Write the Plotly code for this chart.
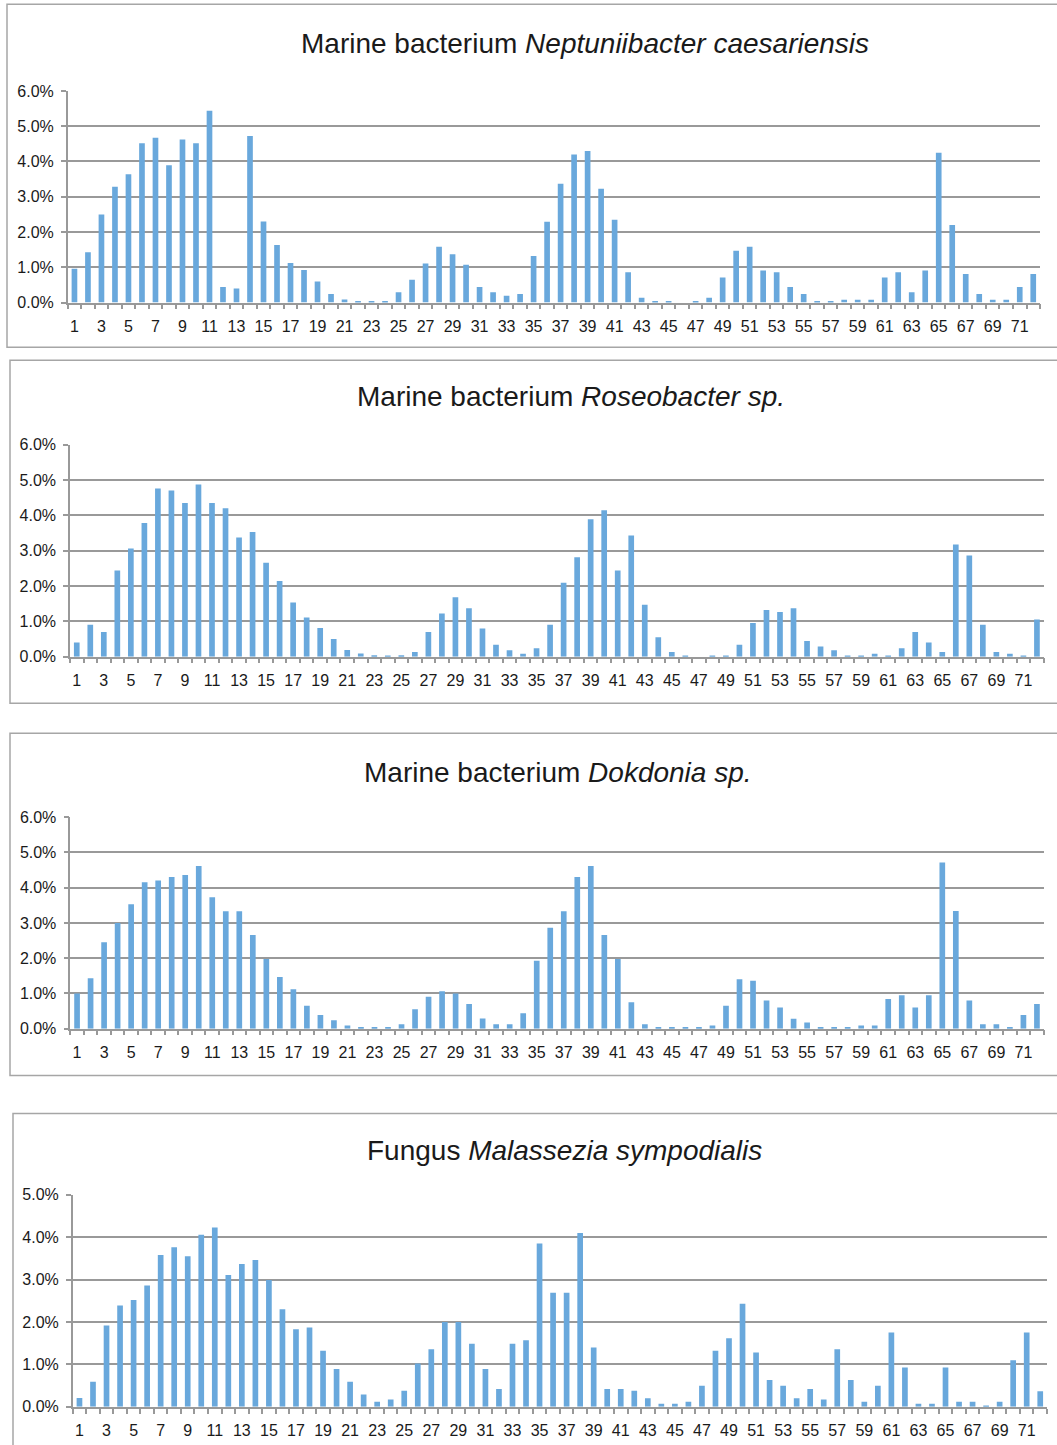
import plotly.graph_objects as go

positions = list(range(1, 73))
tick_labels = [str(i) for i in range(1, 73, 2)]

neptuniibacter = [0.96, 1.43, 2.50, 3.28, 3.64, 4.52, 4.67, 3.89, 4.62, 4.52,
                  5.44, 0.44, 0.40, 4.72, 2.30, 1.63, 1.12, 0.92, 0.60, 0.24,
                  0.09, 0.04, 0.04, 0.04, 0.29, 0.65, 1.11, 1.58, 1.37, 1.07,
                  0.44, 0.29, 0.19, 0.24, 1.32, 2.29, 3.37, 4.20, 4.30, 3.23,
                  2.35, 0.86, 0.14, 0.04, 0.04, 0.00, 0.04, 0.14, 0.71, 1.47,
                  1.58, 0.91, 0.86, 0.44, 0.24, 0.04, 0.04, 0.08, 0.08, 0.08,
                  0.71, 0.86, 0.29, 0.91, 4.25, 2.20, 0.81, 0.24, 0.08, 0.08,
                  0.44, 0.81]

roseobacter = [0.40, 0.90, 0.70, 2.44, 3.06, 3.78, 4.76, 4.70, 4.35, 4.87,
               4.35, 4.20, 3.37, 3.53, 2.66, 2.14, 1.53, 1.11, 0.81, 0.50,
               0.19, 0.09, 0.04, 0.03, 0.04, 0.13, 0.70, 1.22, 1.68, 1.37,
               0.80, 0.34, 0.18, 0.08, 0.24, 0.90, 2.09, 2.81, 3.89, 4.14,
               2.44, 3.43, 1.47, 0.55, 0.13, 0.03, 0.00, 0.03, 0.03, 0.34,
               0.95, 1.32, 1.26, 1.37, 0.44, 0.29, 0.18, 0.03, 0.03, 0.08,
               0.03, 0.24, 0.70, 0.40, 0.13, 3.17, 2.86, 0.90, 0.13, 0.08,
               0.03, 1.05]

dokdonia = [1.00, 1.43, 2.45, 3.00, 3.53, 4.15, 4.20, 4.30, 4.36, 4.61,
            3.73, 3.33, 3.33, 2.66, 1.98, 1.47, 1.12, 0.65, 0.39, 0.24,
            0.09, 0.04, 0.04, 0.04, 0.13, 0.55, 0.91, 1.06, 1.00, 0.70,
            0.29, 0.13, 0.13, 0.44, 1.93, 2.86, 3.33, 4.30, 4.61, 2.66,
            1.98, 0.75, 0.13, 0.04, 0.04, 0.04, 0.04, 0.09, 0.65, 1.40,
            1.36, 0.80, 0.60, 0.28, 0.18, 0.04, 0.04, 0.04, 0.09, 0.09,
            0.84, 0.95, 0.60, 0.95, 4.71, 3.34, 0.80, 0.13, 0.13, 0.04,
            0.39, 0.70]

malassezia = [0.21, 0.59, 1.92, 2.39, 2.52, 2.86, 3.58, 3.76, 3.55, 4.06,
              4.23, 3.11, 3.37, 3.46, 2.99, 2.30, 1.83, 1.87, 1.32, 0.89,
              0.59, 0.29, 0.12, 0.17, 0.38, 1.02, 1.36, 2.00, 2.00, 1.49,
              0.89, 0.42, 1.49, 1.57, 3.85, 2.69, 2.69, 4.10, 1.40, 0.42,
              0.42, 0.38, 0.20, 0.07, 0.07, 0.12, 0.50, 1.32, 1.62, 2.43,
              1.28, 0.63, 0.50, 0.20, 0.42, 0.17, 1.36, 0.63, 0.12, 0.50,
              1.75, 0.93, 0.07, 0.07, 0.93, 0.12, 0.12, 0.03, 0.12, 1.10,
              1.75, 0.37]

titles = ["Marine bacterium <i>Neptuniibacter caesariensis</i>",
          "Marine bacterium <i>Roseobacter sp.</i>",
          "Marine bacterium <i>Dokdonia sp.</i>",
          "Fungus <i>Malassezia sympodialis</i>"]
series = [neptuniibacter, roseobacter, dokdonia, malassezia]
y_max = [6, 6, 6, 5]

W, H = 1057, 1445


def py(t):
    # calibrate vertical pixel target to layout coordinate
    return (t - 7.8) / 0.988


# plot area pixel boxes: (left, right, top, bottom)
boxes = [(67.7, 1040.0, 90.7, 302.3),
         (70.0, 1043.7, 444.3, 656.3),
         (70.3, 1043.7, 816.7, 1028.3),
         (72.7, 1047.0, 1194.3, 1406.3)]
title_pos = [(585, 43), (571, 396), (558, 772), (564, 1150)]
frames = [(7, 4, 347), (10, 360, 703), (10, 733, 1075), (13, 1113, 1470)]

BAR = "#69A8DC"
GRID = "#999999"
TXT = "#1a1a1a"
FONT = "Liberation Sans, Arial, sans-serif"

fig = go.Figure()
layout = dict(width=W, height=H, margin=dict(l=0, r=0, t=0, b=0),
              paper_bgcolor="white", plot_bgcolor="white", showlegend=False,
              bargap=0.58, font=dict(family=FONT, color=TXT))
annotations = []
shapes = []
for i, (vals, ttl, ym, box, tp, fr) in enumerate(zip(series, titles, y_max, boxes, title_pos, frames)):
    n = "" if i == 0 else str(i + 1)
    fig.add_trace(go.Bar(x=positions, y=vals, marker=dict(color=BAR, line=dict(width=0)),
                         xaxis="x" + n, yaxis="y" + n, hoverinfo="x+y"))
    l, r, t, b = box
    layout["xaxis" + n] = dict(domain=[l / W, r / W], range=[0.5, 72.5], anchor="y" + n,
                               tickmode="array", tickvals=list(range(1, 73, 2)),
                               ticktext=tick_labels, ticks="", showgrid=False,
                               showline=True, linecolor=GRID, linewidth=1.5,
                               tickfont=dict(size=16, color=TXT), ticklabelstandoff=8,
                               minor=dict(tickmode="linear", tick0=0.5, dtick=1,
                                          ticks="outside", ticklen=5, tickcolor=GRID,
                                          tickwidth=1.5, showgrid=False),
                               zeroline=False, fixedrange=True)
    layout["yaxis" + n] = dict(domain=[1 - py(b) / H, 1 - py(t) / H], range=[0, ym], anchor="x" + n,
                               dtick=1, tick0=0, tickformat=".1f", ticksuffix="%",
                               showgrid=True, gridcolor=GRID, gridwidth=1.5,
                               showline=True, linecolor=GRID, linewidth=1.5,
                               ticks="outside", ticklen=5, tickcolor=GRID, tickwidth=1.5,
                               tickfont=dict(size=16, color=TXT), ticklabelstandoff=4,
                               zeroline=False, fixedrange=True)
    annotations.append(dict(text=ttl, x=tp[0] / W, y=1 - py(tp[1]) / H, xref="paper", yref="paper",
                            xanchor="center", yanchor="middle", showarrow=False,
                            font=dict(size=28, color=TXT, family=FONT)))
    fl, ft, fb = fr
    shapes.append(dict(type="rect", xref="paper", yref="paper",
                       x0=fl / W, x1=1.05, y0=1 - py(fb) / H, y1=1 - py(ft) / H,
                       line=dict(color="#A6A6A6", width=1.5), fillcolor="rgba(0,0,0,0)",
                       layer="below"))

layout["annotations"] = annotations
layout["shapes"] = shapes
fig.update_layout(**layout)
fig.write_html("out.html")
